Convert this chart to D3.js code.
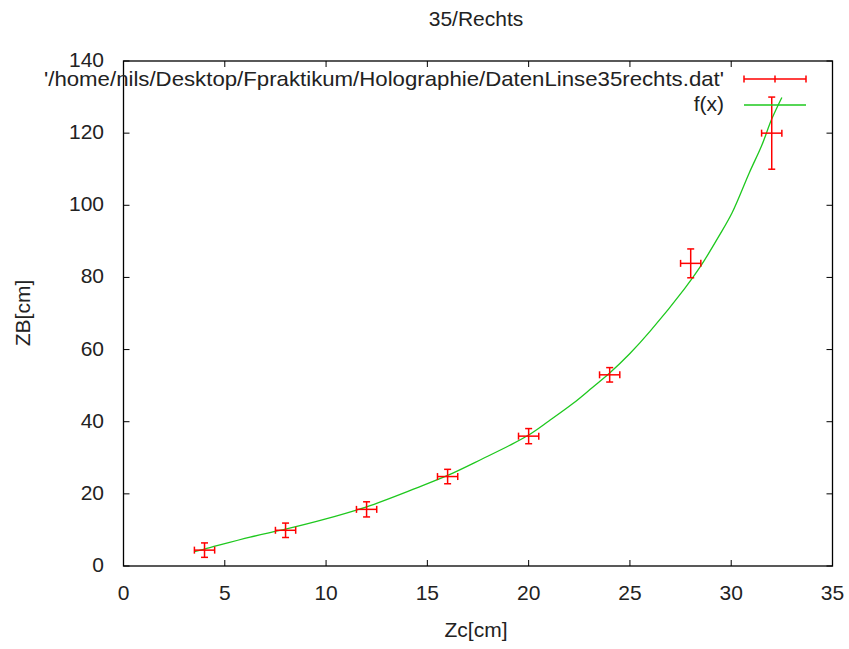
<!DOCTYPE html>
<html>
<head>
<meta charset="utf-8">
<script src="https://cdn.jsdelivr.net/npm/d3@7"></script>
<style>
  body { margin: 0; background: #fff; }
  text { font-family: "Liberation Sans", Arial, sans-serif; fill: #222; font-size: 21px; }
</style>
</head>
<body>
<svg id="chart" width="849" height="649"></svg>
<script>
// measured points (Zc, ZB) with errors
const zc = [4, 8, 12, 16, 20, 24, 28, 32];
const zb = [4.4, 9.9, 15.7, 24.8, 36.0, 53.0, 83.9, 120];
const zcErr = [0.5, 0.5, 0.5, 0.5, 0.5, 0.5, 0.5, 0.5];
const zbErr = [2, 2, 2.1, 2, 2.1, 2, 4, 10];

// fit curve f(x)
const fitX = [3.5, 4, 6.25, 8, 9.9, 12, 14.45, 16, 17.75, 19.05, 20, 21, 22.2, 23.15, 24, 25, 26, 27.7, 28.5, 29.4, 30.05, 30.9, 31.5, 32, 32.5];
const fitY = [4.0, 4.7, 8.0, 10.2, 12.9, 16.4, 21.6, 25.1, 29.8, 33.4, 36.3, 40.2, 45.1, 49.5, 53.5, 58.9, 65.1, 76.9, 83.2, 91.5, 98.0, 109.1, 116.5, 123.9, 129.9];

const xTicks = [0, 5, 10, 15, 20, 25, 30, 35];
const yTicks = [0, 20, 40, 60, 80, 100, 120, 140];

const svg = d3.select("#chart");
const pLeft = 123.5, pRight = 832.5, pTop = 61, pBottom = 566;

let x = d3.scaleLinear().domain([0, 35]).range([pLeft, pRight]);
let y = d3.scaleLinear().domain([0, 140]).range([pBottom, pTop]);

const red = "#ff0000", green = "#1ec81e";

// box
svg.append("rect")
  .attr("x", pLeft).attr("y", pTop)
  .attr("width", pRight - pLeft).attr("height", pBottom - pTop)
  .attr("fill", "none").attr("stroke", "#000").attr("stroke-width", 1.3);

// ticks on all four sides, pointing in
let tk = 6;
xTicks.forEach(t => {
  svg.append("line").attr("x1", x(t)).attr("x2", x(t)).attr("y1", pBottom).attr("y2", pBottom - tk).attr("stroke", "#000");
  svg.append("line").attr("x1", x(t)).attr("x2", x(t)).attr("y1", pTop).attr("y2", pTop + tk).attr("stroke", "#000");
  svg.append("text").attr("x", x(t)).attr("y", 600)
    .attr("text-anchor", "middle").text(t);
});
yTicks.forEach(t => {
  svg.append("line").attr("x1", pLeft).attr("x2", pLeft + tk).attr("y1", y(t)).attr("y2", y(t)).attr("stroke", "#000");
  svg.append("line").attr("x1", pRight).attr("x2", pRight - tk).attr("y1", y(t)).attr("y2", y(t)).attr("stroke", "#000");
  svg.append("text").attr("x", 104).attr("y", y(t) + 6)
    .attr("text-anchor", "end").text(t);
});

// title + axis labels
svg.append("text").attr("x", 476).attr("y", 26).attr("text-anchor", "middle").text("35/Rechts");
svg.append("text").attr("x", 476).attr("y", 637).attr("text-anchor", "middle").text("Zc[cm]");
svg.append("text").attr("transform", "translate(30,313) rotate(-90)").attr("text-anchor", "middle").text("ZB[cm]");

// fit curve
let line = d3.line().curve(d3.curveCatmullRom).x(d => x(d[0])).y(d => y(d[1]));
svg.append("path").datum(d3.zip(fitX, fitY))
  .attr("d", line).attr("fill", "none").attr("stroke", green).attr("stroke-width", 1.3);

// error crosses
let cap = 3.5;
zc.forEach((v, i) => {
  let g = svg.append("g").attr("stroke", red).attr("stroke-width", 1.5);
  let cx = x(v), cy = y(zb[i]);
  let x0 = x(v - zcErr[i]), x1 = x(v + zcErr[i]);
  let y0 = y(zb[i] - zbErr[i]), y1 = y(zb[i] + zbErr[i]);
  g.append("line").attr("x1", x0).attr("x2", x1).attr("y1", cy).attr("y2", cy);
  g.append("line").attr("x1", cx).attr("x2", cx).attr("y1", y0).attr("y2", y1);
  g.append("line").attr("x1", x0).attr("x2", x0).attr("y1", cy - cap).attr("y2", cy + cap);
  g.append("line").attr("x1", x1).attr("x2", x1).attr("y1", cy - cap).attr("y2", cy + cap);
  g.append("line").attr("x1", cx - cap).attr("x2", cx + cap).attr("y1", y0).attr("y2", y0);
  g.append("line").attr("x1", cx - cap).attr("x2", cx + cap).attr("y1", y1).attr("y2", y1);
});

// legend
let lx0 = 744, lx1 = 806;
svg.append("text").attr("x", 724).attr("y", 86).attr("text-anchor", "end")
  .attr("textLength", 680).attr("lengthAdjust", "spacingAndGlyphs")
  .text("'/home/nils/Desktop/Fpraktikum/Holographie/DatenLinse35rechts.dat'");
let lg = svg.append("g").attr("stroke", red).attr("stroke-width", 1.5);
lg.append("line").attr("x1", lx0).attr("x2", lx1).attr("y1", 79).attr("y2", 79);
[lx0, (lx0 + lx1) / 2, lx1].forEach(p => {
  lg.append("line").attr("x1", p).attr("x2", p).attr("y1", 79 - cap).attr("y2", 79 + cap);
});
svg.append("text").attr("x", 724).attr("y", 111).attr("text-anchor", "end").text("f(x)");
svg.append("line").attr("x1", lx0).attr("x2", lx1).attr("y1", 105).attr("y2", 105)
  .attr("stroke", green).attr("stroke-width", 1.5);
</script>
</body>
</html>
